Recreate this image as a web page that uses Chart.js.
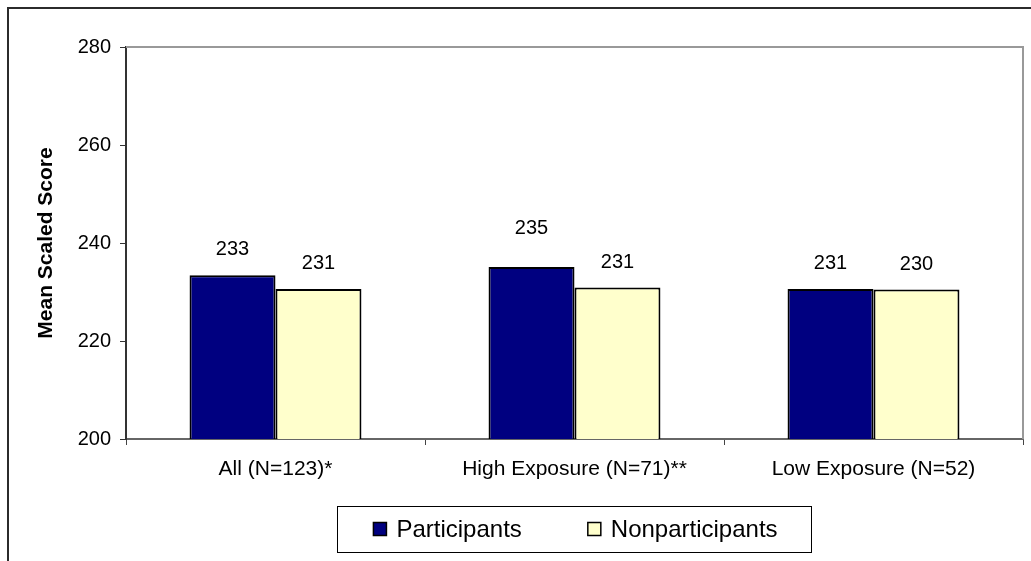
<!DOCTYPE html>
<html>
<head>
<meta charset="utf-8">
<script src="https://cdn.jsdelivr.net/npm/chart.js@4.4.1/dist/chart.umd.min.js"></script>
<style>
  html, body { margin: 0; padding: 0; background: #fff; }
  #wrap { width: 1031px; height: 561px; position: relative; }
</style>
</head>
<body>
<div id="wrap"><canvas id="scoreChart"></canvas></div>
<script>
// Chart data
const categories = ['All (N=123)*', 'High Exposure (N=71)**', 'Low Exposure (N=52)'];
const seriesNames = ['Participants', 'Nonparticipants'];
const participants = [233.4, 235.1, 230.6];
const nonparticipants = [230.6, 230.9, 230.5];
const labelText = [['233', '235', '231'], ['231', '231', '230']];
const yTicks = [200, 220, 240, 260, 280];

const FONT = "'Liberation Sans', Arial, sans-serif";
const barColors = ['#000080', '#FFFFCC'];
// extra lift of the value labels above the bar top (px), per series / category
const labelLift = [[20, 33, 20], [20, 20, 20]];

// frame, plot border, value labels and legend
const decorPlugin = {
  id: 'decor',
  beforeDraw(chart) {
    const c = chart.ctx;
    c.save();
    c.strokeStyle = '#2b2b2b';
    c.lineWidth = 2;
    c.beginPath();
    c.moveTo(8, chart.height);
    c.lineTo(8, 8);
    c.lineTo(chart.width, 8);
    c.stroke();
    c.restore();
  },
  afterDatasetsDraw(chart) {
    const c = chart.ctx;
    const area = chart.chartArea;
    c.save();
    // plot area border (top and right)
    c.strokeStyle = '#999';
    c.lineWidth = 2;
    c.beginPath();
    c.moveTo(area.left, area.top);
    c.lineTo(area.right, area.top);
    c.lineTo(area.right, area.bottom);
    c.stroke();

    // value labels
    c.fillStyle = '#000';
    c.font = '20px ' + FONT;
    c.textAlign = 'center';
    c.textBaseline = 'alphabetic';
    chart.data.datasets.forEach((ds, di) => {
      chart.getDatasetMeta(di).data.forEach((bar, i) => {
        c.fillText(labelText[di][i], bar.x, bar.y - labelLift[di][i]);
      });
    });

    // legend
    const box = 13, fontPx = 24;
    c.font = fontPx + 'px ' + FONT;
    c.textAlign = 'left';
    c.textBaseline = 'middle';
    const textGap = 10, itemGap = 66;
    const widths = seriesNames.map(n => c.measureText(n).width);
    const total = widths.reduce((s, w) => s + box + textGap + w, 0) + itemGap;
    const cx = (area.left + area.right) / 2 + 1;
    const ly = 529;
    const boxL = cx - total / 2 - 36, boxR = cx + total / 2 + 34;
    c.strokeStyle = '#000';
    c.lineWidth = 1;
    c.strokeRect(Math.round(boxL) + 0.5, 506.5, Math.round(boxR - boxL), 46);
    let x = cx - total / 2;
    seriesNames.forEach((n, i) => {
      c.fillStyle = barColors[i];
      c.fillRect(x, ly - box / 2, box, box);
      c.strokeStyle = '#000';
      c.lineWidth = 1.5;
      c.strokeRect(x, ly - box / 2, box, box);
      c.fillStyle = '#000';
      c.fillText(n, x + box + textGap, ly + 1);
      x += box + textGap + widths[i] + itemGap;
    });
    c.restore();
  }
};

new Chart(document.getElementById('scoreChart'), {
  type: 'bar',
  data: {
    labels: categories,
    datasets: [{
      label: seriesNames[0],
      data: participants,
      backgroundColor: barColors[0],
      borderColor: '#000',
      borderWidth: 2,
      borderSkipped: false
    }, {
      label: seriesNames[1],
      data: nonparticipants,
      backgroundColor: barColors[1],
      borderColor: '#000',
      borderWidth: 2,
      borderSkipped: false
    }]
  },
  options: {
    responsive: true,
    maintainAspectRatio: false,
    animation: false,
    layout: { padding: { left: 0, top: 47, right: 8, bottom: 72 } },
    datasets: { bar: { barPercentage: 1, categoryPercentage: 0.575 } },
    plugins: {
      legend: { display: false },
      tooltip: { enabled: false }
    },
    scales: {
      x: {
        afterFit: s => { s.height = 50; },
        grid: { drawOnChartArea: false, drawTicks: true, tickLength: 6, color: '#444', lineWidth: 1 },
        border: { color: '#666', width: 2 },
        ticks: { color: '#000', font: { family: FONT, size: 21 }, padding: 12, maxRotation: 0, autoSkip: false }
      },
      y: {
        min: 200,
        max: 280,
        afterFit: s => { s.width = 126; },
        afterBuildTicks: s => { s.ticks = yTicks.map(v => ({ value: v })); },
        grid: { drawOnChartArea: false, drawTicks: true, tickLength: 6, color: '#333', lineWidth: 1 },
        border: { color: '#333', width: 2 },
        ticks: { color: '#000', font: { family: FONT, size: 20 }, padding: 9 },
        title: {
          display: true,
          text: 'Mean Scaled Score',
          color: '#000',
          font: { family: FONT, size: 21, weight: 'bold' },
          padding: { top: 34, bottom: 0 }
        }
      }
    }
  },
  plugins: [decorPlugin]
});
</script>
</body>
</html>
